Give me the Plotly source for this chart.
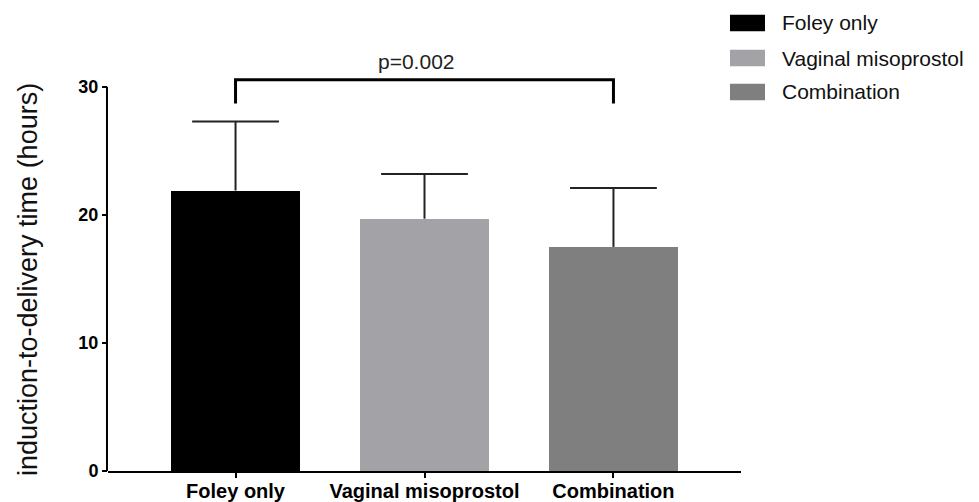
import plotly.graph_objects as go

# ---- data ----
categories = ["Foley only", "Vaginal misoprostol", "Combination"]
means = [21.9, 19.7, 17.5]
sds = [5.4, 3.5, 4.6]
bar_colors = ["#000000", "#a3a3a7", "#7f7f7f"]
y_ticks = [0, 10, 20, 30]
y_title = "induction-to-delivery time (hours)"
p_text = "p=0.002"
bracket_groups = ["Foley only", "Combination"]
bracket_levels = [28.7, 30.55]

FONT = "Liberation Sans, Arial, Helvetica, sans-serif"

fig = go.Figure()

for cat, m, c in zip(categories, means, bar_colors):
    fig.add_trace(go.Bar(
        x=[cat], y=[m], name=cat, marker=dict(color=c, line=dict(width=0)),
        width=0.683, showlegend=False, hoverinfo="skip"))

# error bars: cap as a line marker at mean+sd, stem as downward error bar
tops = [m + s for m, s in zip(means, sds)]
fig.add_trace(go.Scatter(
    x=categories, y=tops, mode="markers", showlegend=False, hoverinfo="skip",
    marker=dict(symbol="line-ew", size=62, color="#222222",
                line=dict(color="#222222", width=2)),
    error_y=dict(type="data", symmetric=False, array=[0] * len(sds),
                 arrayminus=sds, width=0, thickness=2, color="#222222")))

# significance bracket
fig.add_trace(go.Scatter(
    x=[bracket_groups[0], bracket_groups[0], bracket_groups[1], bracket_groups[1]],
    y=[bracket_levels[0], bracket_levels[1], bracket_levels[1], bracket_levels[0]],
    mode="lines", line=dict(color="#000000", width=3), showlegend=False,
    hoverinfo="skip"))

shapes = [
    # y axis line from 0 to 30
    dict(type="line", xref="paper", yref="y", x0=-0.0016, x1=-0.0016,
         y0=y_ticks[0] - 0.08, y1=y_ticks[-1],
         line=dict(color="#000000", width=2)),
]
annotations = [
    dict(text=p_text, xref="paper", yref="paper", x=0.4866, y=1.031,
         xanchor="center", yanchor="middle", showarrow=False,
         font=dict(family=FONT, size=21, color="#222222")),
    dict(text=y_title, xref="paper", yref="paper", x=-0.1264, y=0.4836,
         xanchor="center", yanchor="middle", textangle=-90, showarrow=False,
         font=dict(family=FONT, size=27, color="#111111")),
]

# manual legend
legend_rows = [1.1285, 1.0403, 0.9547]
for cat, c, yr in zip(categories, bar_colors, legend_rows):
    shapes.append(dict(type="rect", xref="paper", yref="paper",
                       x0=0.9826, x1=1.0379, y0=yr - 0.021, y1=yr + 0.021,
                       fillcolor=c, line=dict(width=0)))
    annotations.append(dict(text=cat, xref="paper", yref="paper", x=1.0616, y=yr,
                            xanchor="left", yanchor="middle", showarrow=False,
                            font=dict(family=FONT, size=21, color="#111111")))

fig.update_layout(
    template="none",
    width=979, height=502,
    margin=dict(l=108, r=238, t=74, b=31, autoexpand=False),
    plot_bgcolor="white", paper_bgcolor="white",
    font=dict(family=FONT, color="#000000"),
    bargap=0,
    xaxis=dict(range=[-0.675, 2.675], showline=True, linecolor="#000000", linewidth=2,
               ticks="outside", ticklen=5, tickwidth=2, tickcolor="#000000",
               showgrid=False, zeroline=False, automargin=False,
               ticklabelstandoff=-4,
               tickfont=dict(family=FONT, size=20, color="#000000", weight="bold")),
    yaxis=dict(range=[0, 31], showline=False, tickvals=y_ticks,
               ticks="outside", ticklen=5, tickwidth=2, tickcolor="#000000",
               showgrid=False, zeroline=False, automargin=False,
               tickfont=dict(family=FONT, size=18, color="#000000", weight="bold")),
    shapes=shapes, annotations=annotations,
)

fig.write_html("out.html", config={"displayModeBar": False},
               post_script="document.body.style.margin='0';document.body.style.padding='0';")
